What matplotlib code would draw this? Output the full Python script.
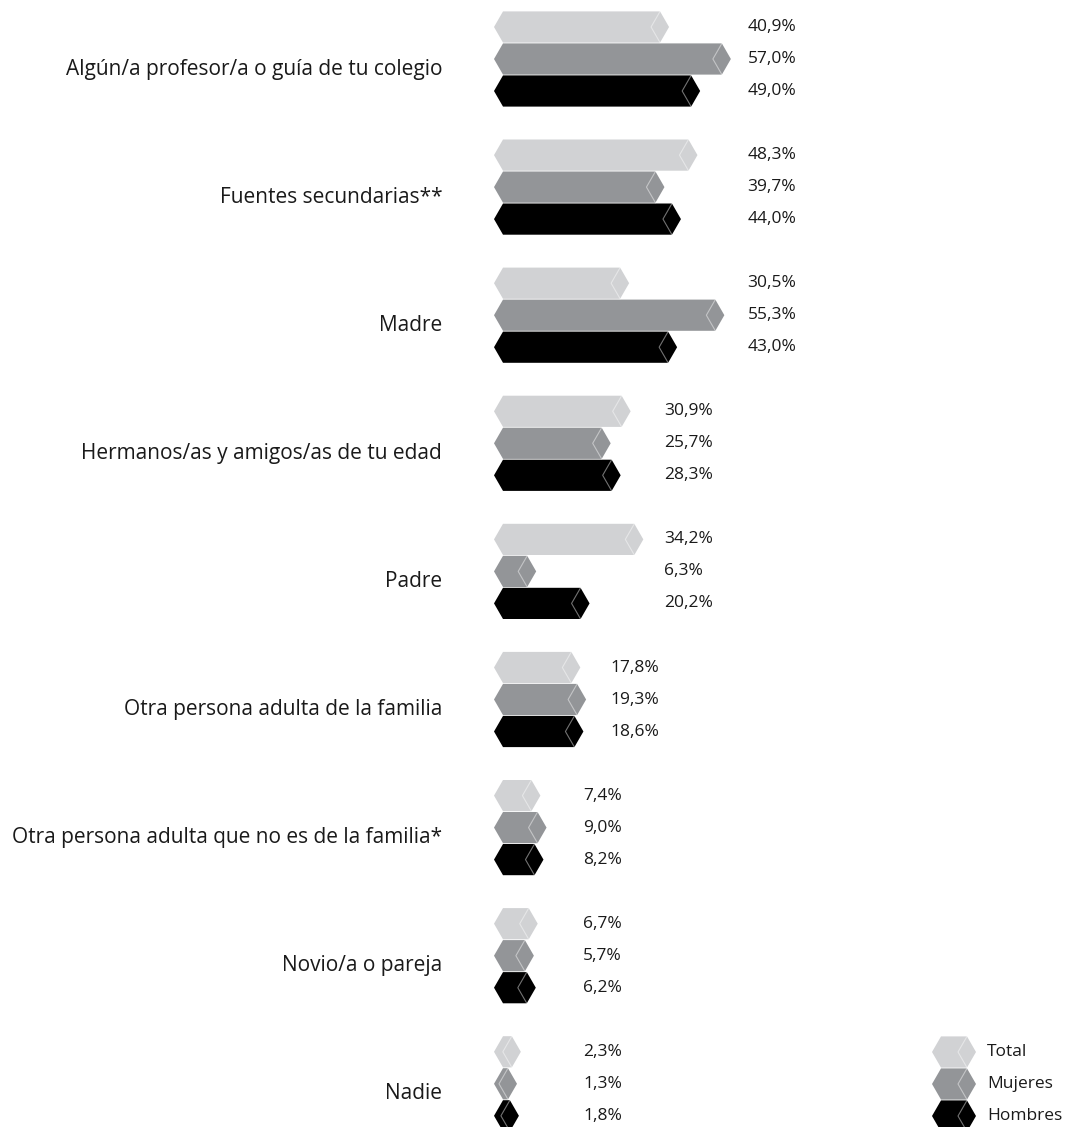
import matplotlib.pyplot as plt
from matplotlib.patches import Polygon
from matplotlib.lines import Line2D

plt.rcParams["font.family"] = ["Open Sans", "DejaVu Sans"]

categories = [
    "Algún/a profesor/a o guía de tu colegio",
    "Fuentes secundarias**",
    "Madre",
    "Hermanos/as y amigos/as de tu edad",
    "Padre",
    "Otra persona adulta de la familia",
    "Otra persona adulta que no es de la familia*",
    "Novio/a o pareja",
    "Nadie",
]
series = ["Total", "Mujeres", "Hombres"]
total = [40.9, 48.3, 30.5, 30.9, 34.2, 17.8, 7.4, 6.7, 2.3]
mujeres = [57.0, 39.7, 55.3, 25.7, 6.3, 19.3, 9.0, 5.7, 1.3]
hombres = [49.0, 44.0, 43.0, 28.3, 20.2, 18.6, 8.2, 6.2, 1.8]

colors = ["#d1d2d4", "#939598", "#000000"]

# layout (x in percent units, y in pixel rows)
px_per_pct = 3.84
origin_px = 494
cap = 9 / px_per_pct          # width of the pointed ends
half_h = 15.6                 # half bar height
group_y0, group_step, bar_step = 59, 128.1, 32
label_cols = [66, 66, 66, 44.3, 44.3, 30.2, 23.2, 23.2, 23.2]

W, H = 1071, 1127
fig = plt.figure(figsize=(W / 100, H / 100), dpi=100)
ax = fig.add_axes([0, 0, 1, 1])
ax.set_xlim(-origin_px / px_per_pct, (W - origin_px) / px_per_pct)
ax.set_ylim(H, 0)
ax.axis("off")


def hex_bar(x0, yc, v, color):
    pts = [
        (x0, yc),
        (x0 + cap, yc - half_h),
        (x0 + cap + v, yc - half_h),
        (x0 + 2 * cap + v, yc),
        (x0 + cap + v, yc + half_h),
        (x0 + cap, yc + half_h),
    ]
    ax.add_patch(Polygon(pts, closed=True, facecolor=color, edgecolor="none"))
    # back edge of the prism end
    ax.add_line(Line2D([x0 + cap + v, x0 + v, x0 + cap + v],
                       [yc - half_h, yc, yc + half_h],
                       color="white", alpha=0.45, lw=0.8))


for i, cat in enumerate(categories):
    yc = group_y0 + group_step * i
    for j, vals in enumerate([total, mujeres, hombres]):
        y = yc + (j - 1) * bar_step
        hex_bar(0, y, vals[i], colors[j])
        ax.text(label_cols[i], y, f"{vals[i]:.1f}%".replace(".", ","),
                ha="left", va="center", fontsize=12.5, color="#1a1a1a")
    ax.text(-13.5, yc + 10, cat, ha="right", va="center", fontsize=15,
            color="#1a1a1a")

# legend
leg_x = (932 - origin_px) / px_per_pct
leg_len = 26 / px_per_pct
for j, name in enumerate(series):
    y = 1052 + j * bar_step
    hex_bar(leg_x, y, leg_len, colors[j])
    ax.text((987 - origin_px) / px_per_pct, y, name, ha="left", va="center",
            fontsize=12.5, color="#1a1a1a")

fig.savefig("out.png", dpi=100)
